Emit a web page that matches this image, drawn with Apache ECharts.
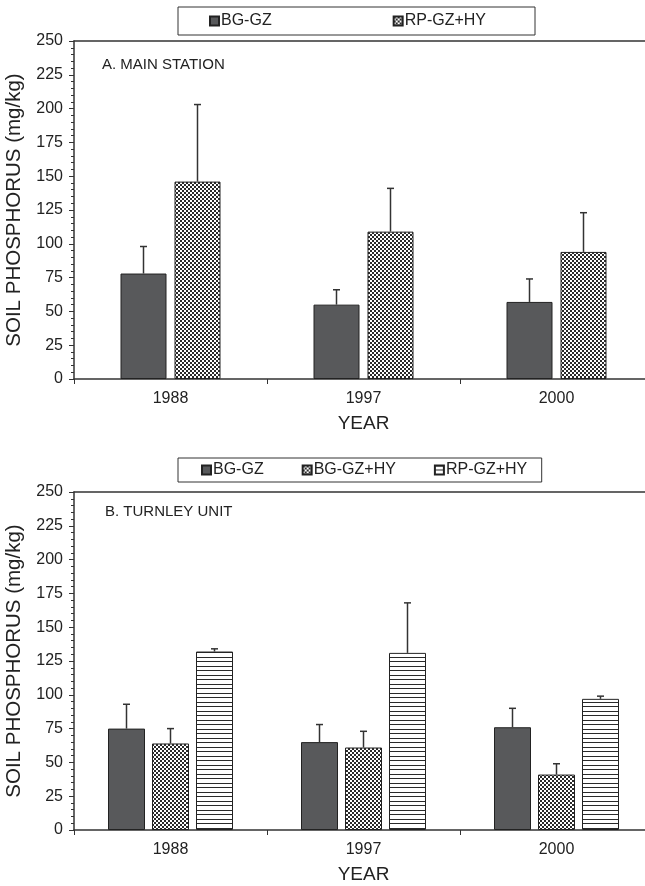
<!DOCTYPE html>
<html><head><meta charset="utf-8">
<script src="https://cdn.jsdelivr.net/npm/echarts@6/dist/echarts.min.js"></script>
<style>html,body{margin:0;padding:0;background:#fff;overflow:hidden}#c{width:645px;height:886px}</style>
</head><body><div id="c"></div>
<script>
// ---- data ----
const years = ['1988', '1997', '2000'];
const yTicks = [0, 25, 50, 75, 100, 125, 150, 175, 200, 225, 250];
// Panel A: Main Station
const aBG = [78, 55, 57];
const aBGerr = [20, 11, 17];
const aRP = [146, 109, 94];
const aRPerr = [57, 32, 29];
// Panel B: Turnley Unit
const bBG = [75, 65, 76];
const bBGerr = [18, 13, 14];
const bBGHY = [64, 61, 41];
const bBGHYerr = [11, 12, 8];
const bRP = [132, 131, 97];
const bRPerr = [2, 37, 2];

const FONT = 'Liberation Sans, Arial, sans-serif';
const TXT = '#222';
const LINE = '#333';

function checker() {
  const c = document.createElement('canvas'); c.width = 4; c.height = 4;
  const g = c.getContext('2d');
  g.fillStyle = '#fff'; g.fillRect(0, 0, 4, 4);
  g.fillStyle = '#2a2a2a'; g.fillRect(0, 0, 2, 2); g.fillRect(2, 2, 2, 2);
  return { image: c, repeat: 'repeat' };
}
function stripes() {
  const c = document.createElement('canvas'); c.width = 4; c.height = 9;
  const g = c.getContext('2d');
  g.fillStyle = '#fff'; g.fillRect(0, 0, 4, 9);
  g.fillStyle = '#2a2a2a'; g.fillRect(0, 0, 4, 1); g.fillRect(0, 4, 4, 1);
  return { image: c, repeat: 'repeat' };
}
const SOLID = '#58595b';

function axesFor(gi) {
  const x = {
    type: 'category', gridIndex: gi, data: years,
    name: 'YEAR', nameLocation: 'middle', nameGap: 35,
    nameTextStyle: { fontFamily: FONT, fontSize: 19, color: TXT },
    axisLine: { lineStyle: { color: LINE, width: 1.5 } },
    axisTick: { show: true, length: 5, lineStyle: { color: LINE } },
    axisLabel: { fontFamily: FONT, fontSize: 16, color: TXT, margin: 12 },
    splitLine: { show: false }
  };
  const xTop = {
    type: 'category', gridIndex: gi, data: years, position: 'top',
    axisLine: { show: true, lineStyle: { color: LINE, width: 1.5 } },
    axisTick: { show: false }, axisLabel: { show: false }, splitLine: { show: false }
  };
  const y = {
    type: 'value', gridIndex: gi, min: yTicks[0], max: yTicks[yTicks.length - 1],
    interval: yTicks[1] - yTicks[0],
    name: 'SOIL PHOSPHORUS (mg/kg)', nameLocation: 'middle', nameGap: 49, nameRotate: 90,
    nameTextStyle: { fontFamily: FONT, fontSize: 20.5, color: TXT },
    axisLine: { show: true, lineStyle: { color: LINE, width: 1.5 } },
    axisTick: { show: true, length: 5, lineStyle: { color: LINE } },
    minorTick: { show: true, splitNumber: 5, length: 3, lineStyle: { color: LINE } },
    axisLabel: { fontFamily: FONT, fontSize: 16, color: TXT, margin: 11 },
    splitLine: { show: false }
  };
  return [x, xTop, y];
}

function barSeries(name, data, color, gi, bw, gapPct) {
  return {
    name, type: 'bar', xAxisIndex: gi, yAxisIndex: gi, data,
    barWidth: bw, barGap: gapPct,
    itemStyle: { color, borderColor: '#222', borderWidth: 1 },
    z: 2
  };
}
function errSeries(vals, errs, gi, offset) {
  return {
    type: 'custom', xAxisIndex: gi, yAxisIndex: gi, z: 3,
    data: vals.map((v, i) => [i, v, v + errs[i]]),
    encode: { x: 0, y: [1, 2] },
    renderItem: function (params, api) {
      const b = api.coord([api.value(0), api.value(1)]);
      const t = api.coord([api.value(0), api.value(2)]);
      const cx = b[0] + offset;
      const st = { stroke: LINE, lineWidth: 1.5 };
      return {
        type: 'group', children: [
          { type: 'line', shape: { x1: cx, y1: b[1], x2: cx, y2: t[1] }, style: st },
          { type: 'line', shape: { x1: cx - 3.5, y1: t[1], x2: cx + 3.5, y2: t[1] }, style: st }
        ]
      };
    }
  };
}

const aW = 46, aGap = 8, bW = 37, bGap = 7;
const [ax, axT, ay] = axesFor(0);
const [bx, bxT, by] = axesFor(1);
const chk = checker(), str = stripes();

const option = {
  animation: false,
  backgroundColor: '#fff',
  grid: [
    { left: 74, top: 41, width: 579, height: 338, outerBoundsMode: 'none', containLabel: false },
    { left: 74, top: 492, width: 579, height: 338, outerBoundsMode: 'none', containLabel: false }
  ],
  xAxis: [ax, bx, axT, bxT],
  yAxis: [ay, by],
  legend: [
    {
      data: ['BG-GZ', 'RP-GZ+HY'], left: 178, top: 7, orient: 'horizontal', icon: 'rect',
      padding: [6, 49, 6, 31], itemGap: 121, itemWidth: 9, itemHeight: 9,
      borderColor: LINE, borderWidth: 1,
      textStyle: { fontFamily: FONT, fontSize: 16, color: TXT, padding: [0, 0, 0, -3] },
      selectedMode: false
    },
    {
      data: ['BG-GZ', 'BG-GZ+HY', 'RP-GZ+HY '], left: 178, top: 458, orient: 'horizontal', icon: 'rect',
      padding: [4, 10, 4, 23], itemGap: 38, itemWidth: 9, itemHeight: 9,
      borderColor: LINE, borderWidth: 1,
      textStyle: { fontFamily: FONT, fontSize: 16, color: TXT, padding: [0, 0, 0, -3] },
      selectedMode: false
    }
  ],
  graphic: [
    { type: 'text', left: 102, top: 57, style: { text: 'A. MAIN STATION', font: '15px ' + FONT, fill: TXT } },
    { type: 'text', left: 105, top: 504, style: { text: 'B. TURNLEY UNIT', font: '15px ' + FONT, fill: TXT } }
  ],
  series: [
    barSeries('BG-GZ', aBG, SOLID, 0, aW, (aGap / aW * 100) + '%'),
    barSeries('RP-GZ+HY', aRP, chk, 0, aW, (aGap / aW * 100) + '%'),
    errSeries(aBG, aBGerr, 0, -(aW + aGap) / 2),
    errSeries(aRP, aRPerr, 0, (aW + aGap) / 2),
    barSeries('BG-GZ', bBG, SOLID, 1, bW, (bGap / bW * 100) + '%'),
    barSeries('BG-GZ+HY', bBGHY, chk, 1, bW, (bGap / bW * 100) + '%'),
    barSeries('RP-GZ+HY ', bRP, str, 1, bW, (bGap / bW * 100) + '%'),
    errSeries(bBG, bBGerr, 1, -(bW + bGap)),
    errSeries(bBGHY, bBGHYerr, 1, 0),
    errSeries(bRP, bRPerr, 1, (bW + bGap))
  ]
};
const chart = echarts.init(document.getElementById('c'), null, { renderer: 'canvas' });
chart.setOption(option);
</script>
</body></html>
